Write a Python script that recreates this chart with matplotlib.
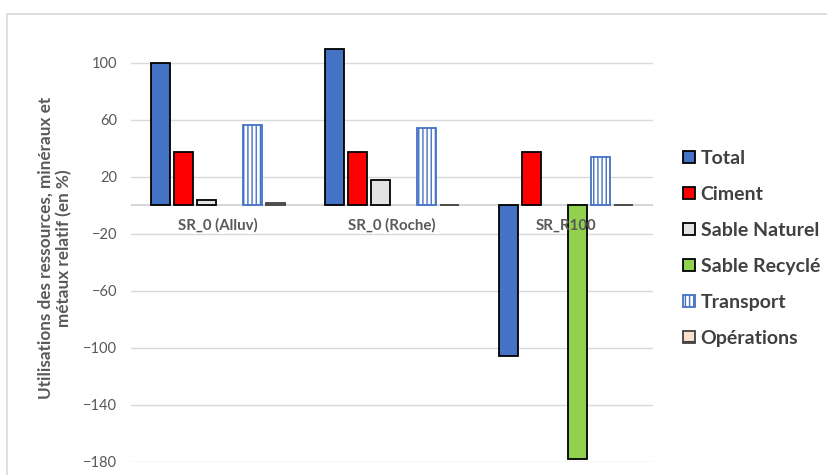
import matplotlib.pyplot as plt
from matplotlib.patches import Patch, Rectangle

plt.rcParams['font.family'] = ['Lato', 'DejaVu Sans']
plt.rcParams['hatch.linewidth'] = 1.0

scenarios = ['SR_0 (Alluv)', 'SR_0 (Roche)', 'SR_R100']
series = ['Total', 'Ciment', 'Sable Naturel', 'Sable Recyclé', 'Transport', 'Opérations']
total = [100, 110, -106]
ciment = [37.3, 37.3, 37.3]
sable_naturel = [3.5, 17.4, 0]
sable_recycle = [0, 0, -178]
transport = [56.3, 54.5, 33.8]
operations = [1.7, 0.5, 0.5]
yticks = [100, 60, 20, -20, -60, -100, -140, -180]

values = [total, ciment, sable_naturel, sable_recycle, transport, operations]
styles = [
    dict(facecolor='#4472c4', edgecolor='black'),
    dict(facecolor='#ff0000', edgecolor='black'),
    dict(facecolor='#e3e3e3', edgecolor='black'),
    dict(facecolor='#92d050', edgecolor='black'),
    dict(facecolor='white', edgecolor='#4472c4', hatch='||||'),
    dict(facecolor='#fbe0cc', edgecolor='#404040'),
]

fig = plt.figure(figsize=(8.27, 4.75), dpi=100)
ax = fig.add_axes([0.1584, 0.028, 0.6312, 0.8998])

slot = 0.1322
width = 0.106
for i, (vals, st) in enumerate(zip(values, styles)):
    xs = [c + (i - 2.5) * slot for c in range(len(scenarios))]
    lws = [1.3 if v != 0 else 0 for v in vals]
    ax.bar(xs, vals, width, linewidth=lws, zorder=3, label=series[i], **st)

ax.set_xlim(-0.5, 2.5)
ax.set_ylim(-180, 120)
ax.set_yticks(yticks)
ax.tick_params(axis='y', length=0, pad=10, labelsize=10.5, labelcolor='#595959')
ax.set_xticks([])
for s in ax.spines.values():
    s.set_visible(False)
ax.grid(axis='y', color='#d9d9d9', linewidth=1, zorder=0)
ax.axhline(0, color='#d0d0d0', linewidth=1.2, zorder=2)

for c, name in enumerate(scenarios):
    ax.text(c, -14.3, name, ha='center', va='center', fontsize=10.8,
            fontweight='bold', color='#595959', zorder=5)

ax.set_ylabel('Utilisations des ressources, minéraux et\nmétaux relatif (en %)',
              fontsize=12.3, fontweight='bold', color='#595959', labelpad=8)

handles = [Patch(linewidth=1.3, **st) for st in styles]
handles[5] = Patch(facecolor='#fbe0cc', edgecolor='#404040', hatch='-', linewidth=1.3)
ax.legend(handles, series, loc='center left', bbox_to_anchor=(0.805, 0.477),
          bbox_transform=fig.transFigure, frameon=False,
          labelcolor='#404040', prop=dict(weight='bold', size=14),
          handlelength=0.6, handleheight=0.6, handletextpad=0.3,
          labelspacing=0.98)

# light chart frame
fig.add_artist(Rectangle((7 / 827, -0.5), 2, 0.5 + (475 - 14) / 475,
                         transform=fig.transFigure, fill=False,
                         edgecolor='#d9d9d9', linewidth=1.2))

fig.savefig('out.png', dpi=100)
